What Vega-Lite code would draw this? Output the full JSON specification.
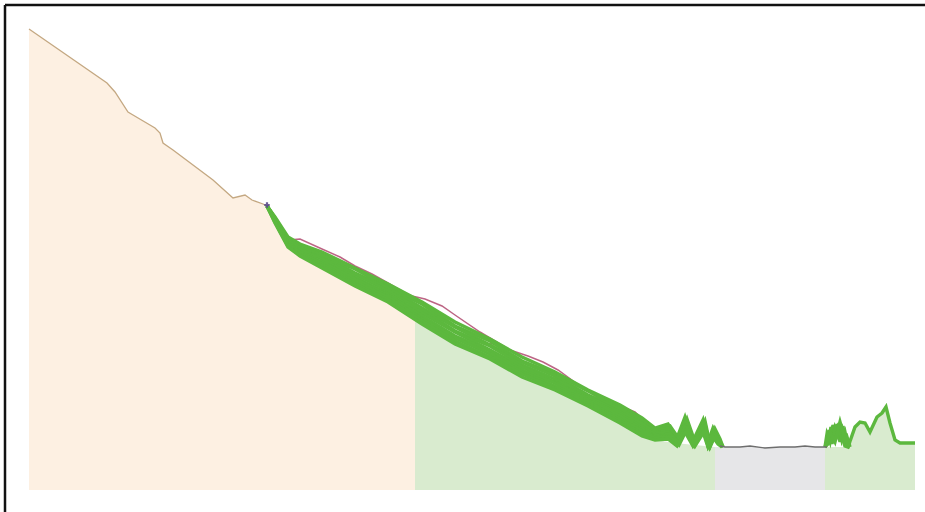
{
  "$schema": "https://vega.github.io/schema/vega-lite/v6.json",
  "width": 920,
  "height": 507,
  "autosize": "none",
  "padding": {"left": 5, "top": 5, "right": 0, "bottom": 0},
  "background": "white",
  "view": {"stroke": null},
  "config": {"view": {"stroke": null}},
  "datasets": {
    "area": [
      {"r":"s1","x":24,"y":483},{"r":"s1","x":102,"y":429},{"r":"s1","x":110,"y":420},{"r":"s1","x":123,"y":400},{"r":"s1","x":128,"y":397},{"r":"s1","x":150,"y":384},{"r":"s1","x":155,"y":379},{"r":"s1","x":158,"y":369},{"r":"s1","x":168,"y":362},{"r":"s1","x":208,"y":332},{"r":"s1","x":228,"y":314},{"r":"s1","x":240,"y":317},{"r":"s1","x":247,"y":312},{"r":"s1","x":258,"y":308},{"r":"s1","x":262,"y":306},{"r":"s1","x":270,"y":289},{"r":"s1","x":283,"y":265},{"r":"s1","x":295,"y":256},{"r":"s1","x":317,"y":244},{"r":"s1","x":350,"y":226},{"r":"s1","x":383,"y":210},{"r":"s1","x":410,"y":192},
      {"r":"s2","x":410,"y":192},{"r":"s2","x":417,"y":188},{"r":"s2","x":450,"y":168},{"r":"s2","x":485,"y":153},{"r":"s2","x":517,"y":135},{"r":"s2","x":550,"y":122},{"r":"s2","x":583,"y":106},{"r":"s2","x":615,"y":89},{"r":"s2","x":637,"y":76},{"r":"s2","x":650,"y":72},{"r":"s2","x":670,"y":69},{"r":"s2","x":690,"y":67},{"r":"s2","x":710,"y":65},
      {"r":"s3","x":710,"y":65},{"r":"s3","x":820,"y":65},
      {"r":"s4","x":820,"y":65},{"r":"s4","x":845,"y":65},{"r":"s4","x":850,"y":85},{"r":"s4","x":855,"y":90},{"r":"s4","x":860,"y":89},{"r":"s4","x":865,"y":80},{"r":"s4","x":872,"y":95},{"r":"s4","x":877,"y":99},{"r":"s4","x":881,"y":105},{"r":"s4","x":885,"y":89},{"r":"s4","x":890,"y":72},{"r":"s4","x":895,"y":69},{"r":"s4","x":910,"y":69}
    ],
    "lines": [
      {"s":"t","k":"tan","x":24,"y":483},{"s":"t","k":"tan","x":102,"y":429},{"s":"t","k":"tan","x":110,"y":420},{"s":"t","k":"tan","x":123,"y":400},{"s":"t","k":"tan","x":128,"y":397},{"s":"t","k":"tan","x":150,"y":384},{"s":"t","k":"tan","x":155,"y":379},{"s":"t","k":"tan","x":158,"y":369},{"s":"t","k":"tan","x":168,"y":362},{"s":"t","k":"tan","x":208,"y":332},{"s":"t","k":"tan","x":228,"y":314},{"s":"t","k":"tan","x":240,"y":317},{"s":"t","k":"tan","x":247,"y":312},{"s":"t","k":"tan","x":258,"y":308},{"s":"t","k":"tan","x":262,"y":306},
      {"s":"r1","k":"red","x":283,"y":272},{"s":"r1","k":"red","x":295,"y":273},{"s":"r1","k":"red","x":317,"y":263},{"s":"r1","k":"red","x":335,"y":255},{"s":"r1","k":"red","x":350,"y":246},{"s":"r1","k":"red","x":367,"y":238},{"s":"r1","k":"red","x":383,"y":229},{"s":"r1","k":"red","x":400,"y":219},{"s":"r1","k":"red","x":407,"y":216},{"s":"r1","k":"red","x":420,"y":213},{"s":"r1","k":"red","x":437,"y":206},{"s":"r1","k":"red","x":450,"y":197},{"s":"r1","k":"red","x":475,"y":180},{"s":"r1","k":"red","x":500,"y":165},
      {"s":"r2","k":"red","x":485,"y":169},{"s":"r2","k":"red","x":505,"y":162},{"s":"r2","k":"red","x":523,"y":156},{"s":"r2","k":"red","x":538,"y":150},{"s":"r2","k":"red","x":553,"y":142},{"s":"r2","k":"red","x":575,"y":126},{"s":"r2","k":"red","x":600,"y":110},{"s":"r2","k":"red","x":630,"y":98},{"s":"r2","k":"red","x":650,"y":84},
      {"s":"r3","k":"red","x":600,"y":112},{"s":"r3","k":"red","x":615,"y":106},{"s":"r3","k":"red","x":630,"y":100},{"s":"r3","k":"red","x":645,"y":86},{"s":"r3","k":"red","x":655,"y":78},
      {"s":"g1","k":"green","x":262,"y":306},{"s":"g1","k":"green","x":270,"y":295},{"s":"g1","k":"green","x":283,"y":275},{"s":"g1","k":"green","x":295,"y":268},{"s":"g1","k":"green","x":317,"y":260},{"s":"g1","k":"green","x":350,"y":244},{"s":"g1","k":"green","x":383,"y":228},{"s":"g1","k":"green","x":417,"y":210},{"s":"g1","k":"green","x":450,"y":190},{"s":"g1","k":"green","x":485,"y":173},{"s":"g1","k":"green","x":517,"y":155},{"s":"g1","k":"green","x":550,"y":140},{"s":"g1","k":"green","x":583,"y":122},{"s":"g1","k":"green","x":615,"y":107},{"s":"g1","k":"green","x":637,"y":94},{"s":"g1","k":"green","x":650,"y":84},{"s":"g1","k":"green","x":663,"y":88},{"s":"g1","k":"green","x":672,"y":74},{"s":"g1","k":"green","x":680,"y":95},{"s":"g1","k":"green","x":688,"y":71},{"s":"g1","k":"green","x":698,"y":92},{"s":"g1","k":"green","x":703,"y":70},{"s":"g1","k":"green","x":708,"y":84},{"s":"g1","k":"green","x":713,"y":74},{"s":"g1","k":"green","x":717,"y":66},
      {"s":"g2","k":"green","x":262,"y":306},{"s":"g2","k":"green","x":270,"y":294},{"s":"g2","k":"green","x":283,"y":273},{"s":"g2","k":"green","x":295,"y":267},{"s":"g2","k":"green","x":317,"y":257},{"s":"g2","k":"green","x":350,"y":243},{"s":"g2","k":"green","x":383,"y":225},{"s":"g2","k":"green","x":417,"y":208},{"s":"g2","k":"green","x":450,"y":186},{"s":"g2","k":"green","x":485,"y":171},{"s":"g2","k":"green","x":517,"y":151},{"s":"g2","k":"green","x":550,"y":138},{"s":"g2","k":"green","x":583,"y":121},{"s":"g2","k":"green","x":615,"y":104},{"s":"g2","k":"green","x":637,"y":92},{"s":"g2","k":"green","x":650,"y":82},{"s":"g2","k":"green","x":665,"y":86},{"s":"g2","k":"green","x":674,"y":73},{"s":"g2","k":"green","x":682,"y":93},{"s":"g2","k":"green","x":690,"y":70},{"s":"g2","k":"green","x":700,"y":91},{"s":"g2","k":"green","x":705,"y":68},{"s":"g2","k":"green","x":710,"y":83},{"s":"g2","k":"green","x":715,"y":73},{"s":"g2","k":"green","x":718,"y":65},
      {"s":"g3","k":"green","x":262,"y":306},{"s":"g3","k":"green","x":270,"y":293},{"s":"g3","k":"green","x":283,"y":272},{"s":"g3","k":"green","x":295,"y":264},{"s":"g3","k":"green","x":317,"y":257},{"s":"g3","k":"green","x":350,"y":239},{"s":"g3","k":"green","x":383,"y":224},{"s":"g3","k":"green","x":417,"y":204},{"s":"g3","k":"green","x":450,"y":185},{"s":"g3","k":"green","x":485,"y":167},{"s":"g3","k":"green","x":517,"y":150},{"s":"g3","k":"green","x":550,"y":136},{"s":"g3","k":"green","x":583,"y":117},{"s":"g3","k":"green","x":615,"y":103},{"s":"g3","k":"green","x":637,"y":89},{"s":"g3","k":"green","x":650,"y":80},{"s":"g3","k":"green","x":663,"y":84},{"s":"g3","k":"green","x":672,"y":72},{"s":"g3","k":"green","x":680,"y":92},{"s":"g3","k":"green","x":688,"y":69},{"s":"g3","k":"green","x":698,"y":89},{"s":"g3","k":"green","x":703,"y":67},{"s":"g3","k":"green","x":708,"y":81},{"s":"g3","k":"green","x":713,"y":72},{"s":"g3","k":"green","x":717,"y":65},
      {"s":"g4","k":"green","x":262,"y":306},{"s":"g4","k":"green","x":270,"y":293},{"s":"g4","k":"green","x":283,"y":271},{"s":"g4","k":"green","x":295,"y":263},{"s":"g4","k":"green","x":317,"y":254},{"s":"g4","k":"green","x":350,"y":238},{"s":"g4","k":"green","x":383,"y":221},{"s":"g4","k":"green","x":417,"y":202},{"s":"g4","k":"green","x":450,"y":181},{"s":"g4","k":"green","x":485,"y":166},{"s":"g4","k":"green","x":517,"y":147},{"s":"g4","k":"green","x":550,"y":133},{"s":"g4","k":"green","x":583,"y":116},{"s":"g4","k":"green","x":615,"y":100},{"s":"g4","k":"green","x":637,"y":88},{"s":"g4","k":"green","x":650,"y":79},{"s":"g4","k":"green","x":665,"y":82},{"s":"g4","k":"green","x":674,"y":70},{"s":"g4","k":"green","x":682,"y":90},{"s":"g4","k":"green","x":690,"y":68},{"s":"g4","k":"green","x":700,"y":88},{"s":"g4","k":"green","x":705,"y":66},{"s":"g4","k":"green","x":710,"y":79},{"s":"g4","k":"green","x":715,"y":71},{"s":"g4","k":"green","x":718,"y":65},
      {"s":"g5","k":"green","x":262,"y":306},{"s":"g5","k":"green","x":270,"y":292},{"s":"g5","k":"green","x":283,"y":269},{"s":"g5","k":"green","x":295,"y":262},{"s":"g5","k":"green","x":317,"y":253},{"s":"g5","k":"green","x":350,"y":235},{"s":"g5","k":"green","x":383,"y":218},{"s":"g5","k":"green","x":417,"y":199},{"s":"g5","k":"green","x":450,"y":180},{"s":"g5","k":"green","x":485,"y":162},{"s":"g5","k":"green","x":517,"y":145},{"s":"g5","k":"green","x":550,"y":130},{"s":"g5","k":"green","x":583,"y":114},{"s":"g5","k":"green","x":615,"y":98},{"s":"g5","k":"green","x":637,"y":85},{"s":"g5","k":"green","x":650,"y":78},{"s":"g5","k":"green","x":663,"y":80},{"s":"g5","k":"green","x":672,"y":71},{"s":"g5","k":"green","x":680,"y":89},{"s":"g5","k":"green","x":688,"y":68},{"s":"g5","k":"green","x":698,"y":87},{"s":"g5","k":"green","x":703,"y":67},{"s":"g5","k":"green","x":708,"y":80},{"s":"g5","k":"green","x":713,"y":70},{"s":"g5","k":"green","x":717,"y":65},
      {"s":"g6","k":"green","x":262,"y":306},{"s":"g6","k":"green","x":270,"y":291},{"s":"g6","k":"green","x":283,"y":269},{"s":"g6","k":"green","x":295,"y":260},{"s":"g6","k":"green","x":317,"y":250},{"s":"g6","k":"green","x":350,"y":233},{"s":"g6","k":"green","x":383,"y":217},{"s":"g6","k":"green","x":417,"y":196},{"s":"g6","k":"green","x":450,"y":176},{"s":"g6","k":"green","x":485,"y":161},{"s":"g6","k":"green","x":517,"y":142},{"s":"g6","k":"green","x":550,"y":129},{"s":"g6","k":"green","x":583,"y":112},{"s":"g6","k":"green","x":615,"y":96},{"s":"g6","k":"green","x":637,"y":83},{"s":"g6","k":"green","x":650,"y":76},{"s":"g6","k":"green","x":665,"y":78},{"s":"g6","k":"green","x":674,"y":69},{"s":"g6","k":"green","x":682,"y":87},{"s":"g6","k":"green","x":690,"y":67},{"s":"g6","k":"green","x":700,"y":85},{"s":"g6","k":"green","x":705,"y":66},{"s":"g6","k":"green","x":710,"y":78},{"s":"g6","k":"green","x":715,"y":70},{"s":"g6","k":"green","x":718,"y":65},
      {"s":"g7","k":"green","x":262,"y":306},{"s":"g7","k":"green","x":270,"y":290},{"s":"g7","k":"green","x":283,"y":267},{"s":"g7","k":"green","x":295,"y":259},{"s":"g7","k":"green","x":317,"y":248},{"s":"g7","k":"green","x":350,"y":230},{"s":"g7","k":"green","x":383,"y":215},{"s":"g7","k":"green","x":417,"y":193},{"s":"g7","k":"green","x":450,"y":174},{"s":"g7","k":"green","x":485,"y":158},{"s":"g7","k":"green","x":517,"y":140},{"s":"g7","k":"green","x":550,"y":126},{"s":"g7","k":"green","x":583,"y":110},{"s":"g7","k":"green","x":615,"y":93},{"s":"g7","k":"green","x":637,"y":81},{"s":"g7","k":"green","x":650,"y":75},{"s":"g7","k":"green","x":663,"y":76},{"s":"g7","k":"green","x":672,"y":68},{"s":"g7","k":"green","x":680,"y":85},{"s":"g7","k":"green","x":688,"y":67},{"s":"g7","k":"green","x":698,"y":84},{"s":"g7","k":"green","x":703,"y":66},{"s":"g7","k":"green","x":708,"y":77},{"s":"g7","k":"green","x":713,"y":69},{"s":"g7","k":"green","x":717,"y":65},
      {"s":"g8","k":"green","x":262,"y":306},{"s":"g8","k":"green","x":270,"y":290},{"s":"g8","k":"green","x":283,"y":266},{"s":"g8","k":"green","x":295,"y":257},{"s":"g8","k":"green","x":317,"y":246},{"s":"g8","k":"green","x":350,"y":228},{"s":"g8","k":"green","x":383,"y":212},{"s":"g8","k":"green","x":417,"y":191},{"s":"g8","k":"green","x":450,"y":171},{"s":"g8","k":"green","x":485,"y":155},{"s":"g8","k":"green","x":517,"y":138},{"s":"g8","k":"green","x":550,"y":124},{"s":"g8","k":"green","x":583,"y":108},{"s":"g8","k":"green","x":615,"y":91},{"s":"g8","k":"green","x":637,"y":78},{"s":"g8","k":"green","x":650,"y":74},{"s":"g8","k":"green","x":665,"y":75},{"s":"g8","k":"green","x":674,"y":67},{"s":"g8","k":"green","x":682,"y":83},{"s":"g8","k":"green","x":690,"y":66},{"s":"g8","k":"green","x":700,"y":82},{"s":"g8","k":"green","x":705,"y":65},{"s":"g8","k":"green","x":710,"y":76},{"s":"g8","k":"green","x":715,"y":68},{"s":"g8","k":"green","x":718,"y":65},
      {"s":"g9","k":"green","x":262,"y":306},{"s":"g9","k":"green","x":270,"y":289},{"s":"g9","k":"green","x":283,"y":265},{"s":"g9","k":"green","x":295,"y":256},{"s":"g9","k":"green","x":317,"y":244},{"s":"g9","k":"green","x":350,"y":226},{"s":"g9","k":"green","x":383,"y":210},{"s":"g9","k":"green","x":417,"y":188},{"s":"g9","k":"green","x":450,"y":168},{"s":"g9","k":"green","x":485,"y":153},{"s":"g9","k":"green","x":517,"y":135},{"s":"g9","k":"green","x":550,"y":122},{"s":"g9","k":"green","x":583,"y":106},{"s":"g9","k":"green","x":615,"y":89},{"s":"g9","k":"green","x":637,"y":76},{"s":"g9","k":"green","x":650,"y":72},{"s":"g9","k":"green","x":663,"y":73},{"s":"g9","k":"green","x":672,"y":66},{"s":"g9","k":"green","x":680,"y":80},{"s":"g9","k":"green","x":688,"y":66},{"s":"g9","k":"green","x":698,"y":80},{"s":"g9","k":"green","x":703,"y":65},{"s":"g9","k":"green","x":708,"y":75},{"s":"g9","k":"green","x":713,"y":68},{"s":"g9","k":"green","x":717,"y":65},
      {"s":"h1","k":"green","x":820,"y":65},{"s":"h1","k":"green","x":823,"y":68},{"s":"h1","k":"green","x":826,"y":85},{"s":"h1","k":"green","x":829,"y":72},{"s":"h1","k":"green","x":832,"y":88},{"s":"h1","k":"green","x":835,"y":70},{"s":"h1","k":"green","x":838,"y":86},{"s":"h1","k":"green","x":840,"y":66},{"s":"h1","k":"green","x":843,"y":65},{"s":"h1","k":"green","x":850,"y":85},{"s":"h1","k":"green","x":855,"y":90},{"s":"h1","k":"green","x":860,"y":89},{"s":"h1","k":"green","x":865,"y":80},{"s":"h1","k":"green","x":872,"y":95},{"s":"h1","k":"green","x":877,"y":99},{"s":"h1","k":"green","x":881,"y":105},{"s":"h1","k":"green","x":885,"y":89},{"s":"h1","k":"green","x":890,"y":72},{"s":"h1","k":"green","x":895,"y":69},{"s":"h1","k":"green","x":910,"y":69},
      {"s":"h2","k":"green","x":820,"y":65},{"s":"h2","k":"green","x":822,"y":78},{"s":"h2","k":"green","x":825,"y":70},{"s":"h2","k":"green","x":828,"y":87},{"s":"h2","k":"green","x":831,"y":74},{"s":"h2","k":"green","x":834,"y":89},{"s":"h2","k":"green","x":837,"y":72},{"s":"h2","k":"green","x":840,"y":80},{"s":"h2","k":"green","x":843,"y":66},{"s":"h2","k":"green","x":845,"y":65},
      {"s":"h3","k":"green","x":821,"y":66},{"s":"h3","k":"green","x":824,"y":82},{"s":"h3","k":"green","x":827,"y":68},{"s":"h3","k":"green","x":830,"y":84},{"s":"h3","k":"green","x":833,"y":76},{"s":"h3","k":"green","x":836,"y":88},{"s":"h3","k":"green","x":839,"y":70},{"s":"h3","k":"green","x":842,"y":75},{"s":"h3","k":"green","x":845,"y":65},
      {"s":"h4","k":"green","x":820,"y":65},{"s":"h4","k":"green","x":825,"y":80},{"s":"h4","k":"green","x":830,"y":70},{"s":"h4","k":"green","x":835,"y":90},{"s":"h4","k":"green","x":840,"y":72},{"s":"h4","k":"green","x":845,"y":66},
      {"s":"gap","k":"gap","x":715,"y":66},{"s":"gap","k":"gap","x":720,"y":65},{"s":"gap","k":"gap","x":735,"y":65},{"s":"gap","k":"gap","x":745,"y":66},{"s":"gap","k":"gap","x":760,"y":64},{"s":"gap","k":"gap","x":775,"y":65},{"s":"gap","k":"gap","x":790,"y":65},{"s":"gap","k":"gap","x":800,"y":66},{"s":"gap","k":"gap","x":810,"y":65},{"s":"gap","k":"gap","x":822,"y":65}
    ],
    "marker": [{"x": 262, "y": 307}],
    "frameLeft": [{"x": 0, "y": 0, "y2": 507}],
    "frameTop": [{"x": 0, "x2": 920, "y": 507}]
  },
  "encoding": {
    "x": {"field": "x", "type": "quantitative", "scale": {"domain": [0, 920], "nice": false, "zero": false}, "axis": null},
    "y": {"field": "y", "type": "quantitative", "scale": {"domain": [0, 507], "nice": false, "zero": false}, "axis": null}
  },
  "layer": [
    {
      "data": {"name": "area"},
      "mark": {"type": "area", "opacity": 1},
      "encoding": {
        "y2": {"datum": 22},
        "color": {"field": "r", "type": "nominal", "scale": {"domain": ["s1", "s2", "s3", "s4"], "range": ["#fdf0e2", "#d9ebcf", "#e6e6e8", "#d9ebcf"]}, "legend": null}
      }
    },
    {
      "data": {"name": "lines"},
      "transform": [{"filter": "datum.k === 'red'"}],
      "mark": {"type": "line", "color": "#b04a6e", "strokeWidth": 1.5, "opacity": 0.85},
      "encoding": {"detail": {"field": "s", "type": "nominal"}}
    },
    {
      "data": {"name": "lines"},
      "transform": [{"filter": "datum.k === 'green'"}],
      "mark": {"type": "line", "color": "#5cb83e", "strokeWidth": 3.4},
      "encoding": {"detail": {"field": "s", "type": "nominal"}}
    },
    {
      "data": {"name": "lines"},
      "transform": [{"filter": "datum.k === 'tan'"}],
      "mark": {"type": "line", "color": "#c4a882", "strokeWidth": 1.3},
      "encoding": {}
    },
    {
      "data": {"name": "lines"},
      "transform": [{"filter": "datum.k === 'gap'"}],
      "mark": {"type": "line", "color": "#6e6e6e", "strokeWidth": 1.3},
      "encoding": {}
    },
    {
      "data": {"name": "marker"},
      "mark": {"type": "point", "shape": "cross", "filled": true, "color": "#5a4a8a", "size": 30, "opacity": 0.9},
      "encoding": {}
    },
    {
      "data": {"name": "frameLeft"},
      "mark": {"type": "rule", "color": "#111111", "strokeWidth": 2.5},
      "encoding": {"y2": {"field": "y2"}}
    },
    {
      "data": {"name": "frameTop"},
      "mark": {"type": "rule", "color": "#111111", "strokeWidth": 2.5},
      "encoding": {"x2": {"field": "x2"}}
    }
  ]
}
